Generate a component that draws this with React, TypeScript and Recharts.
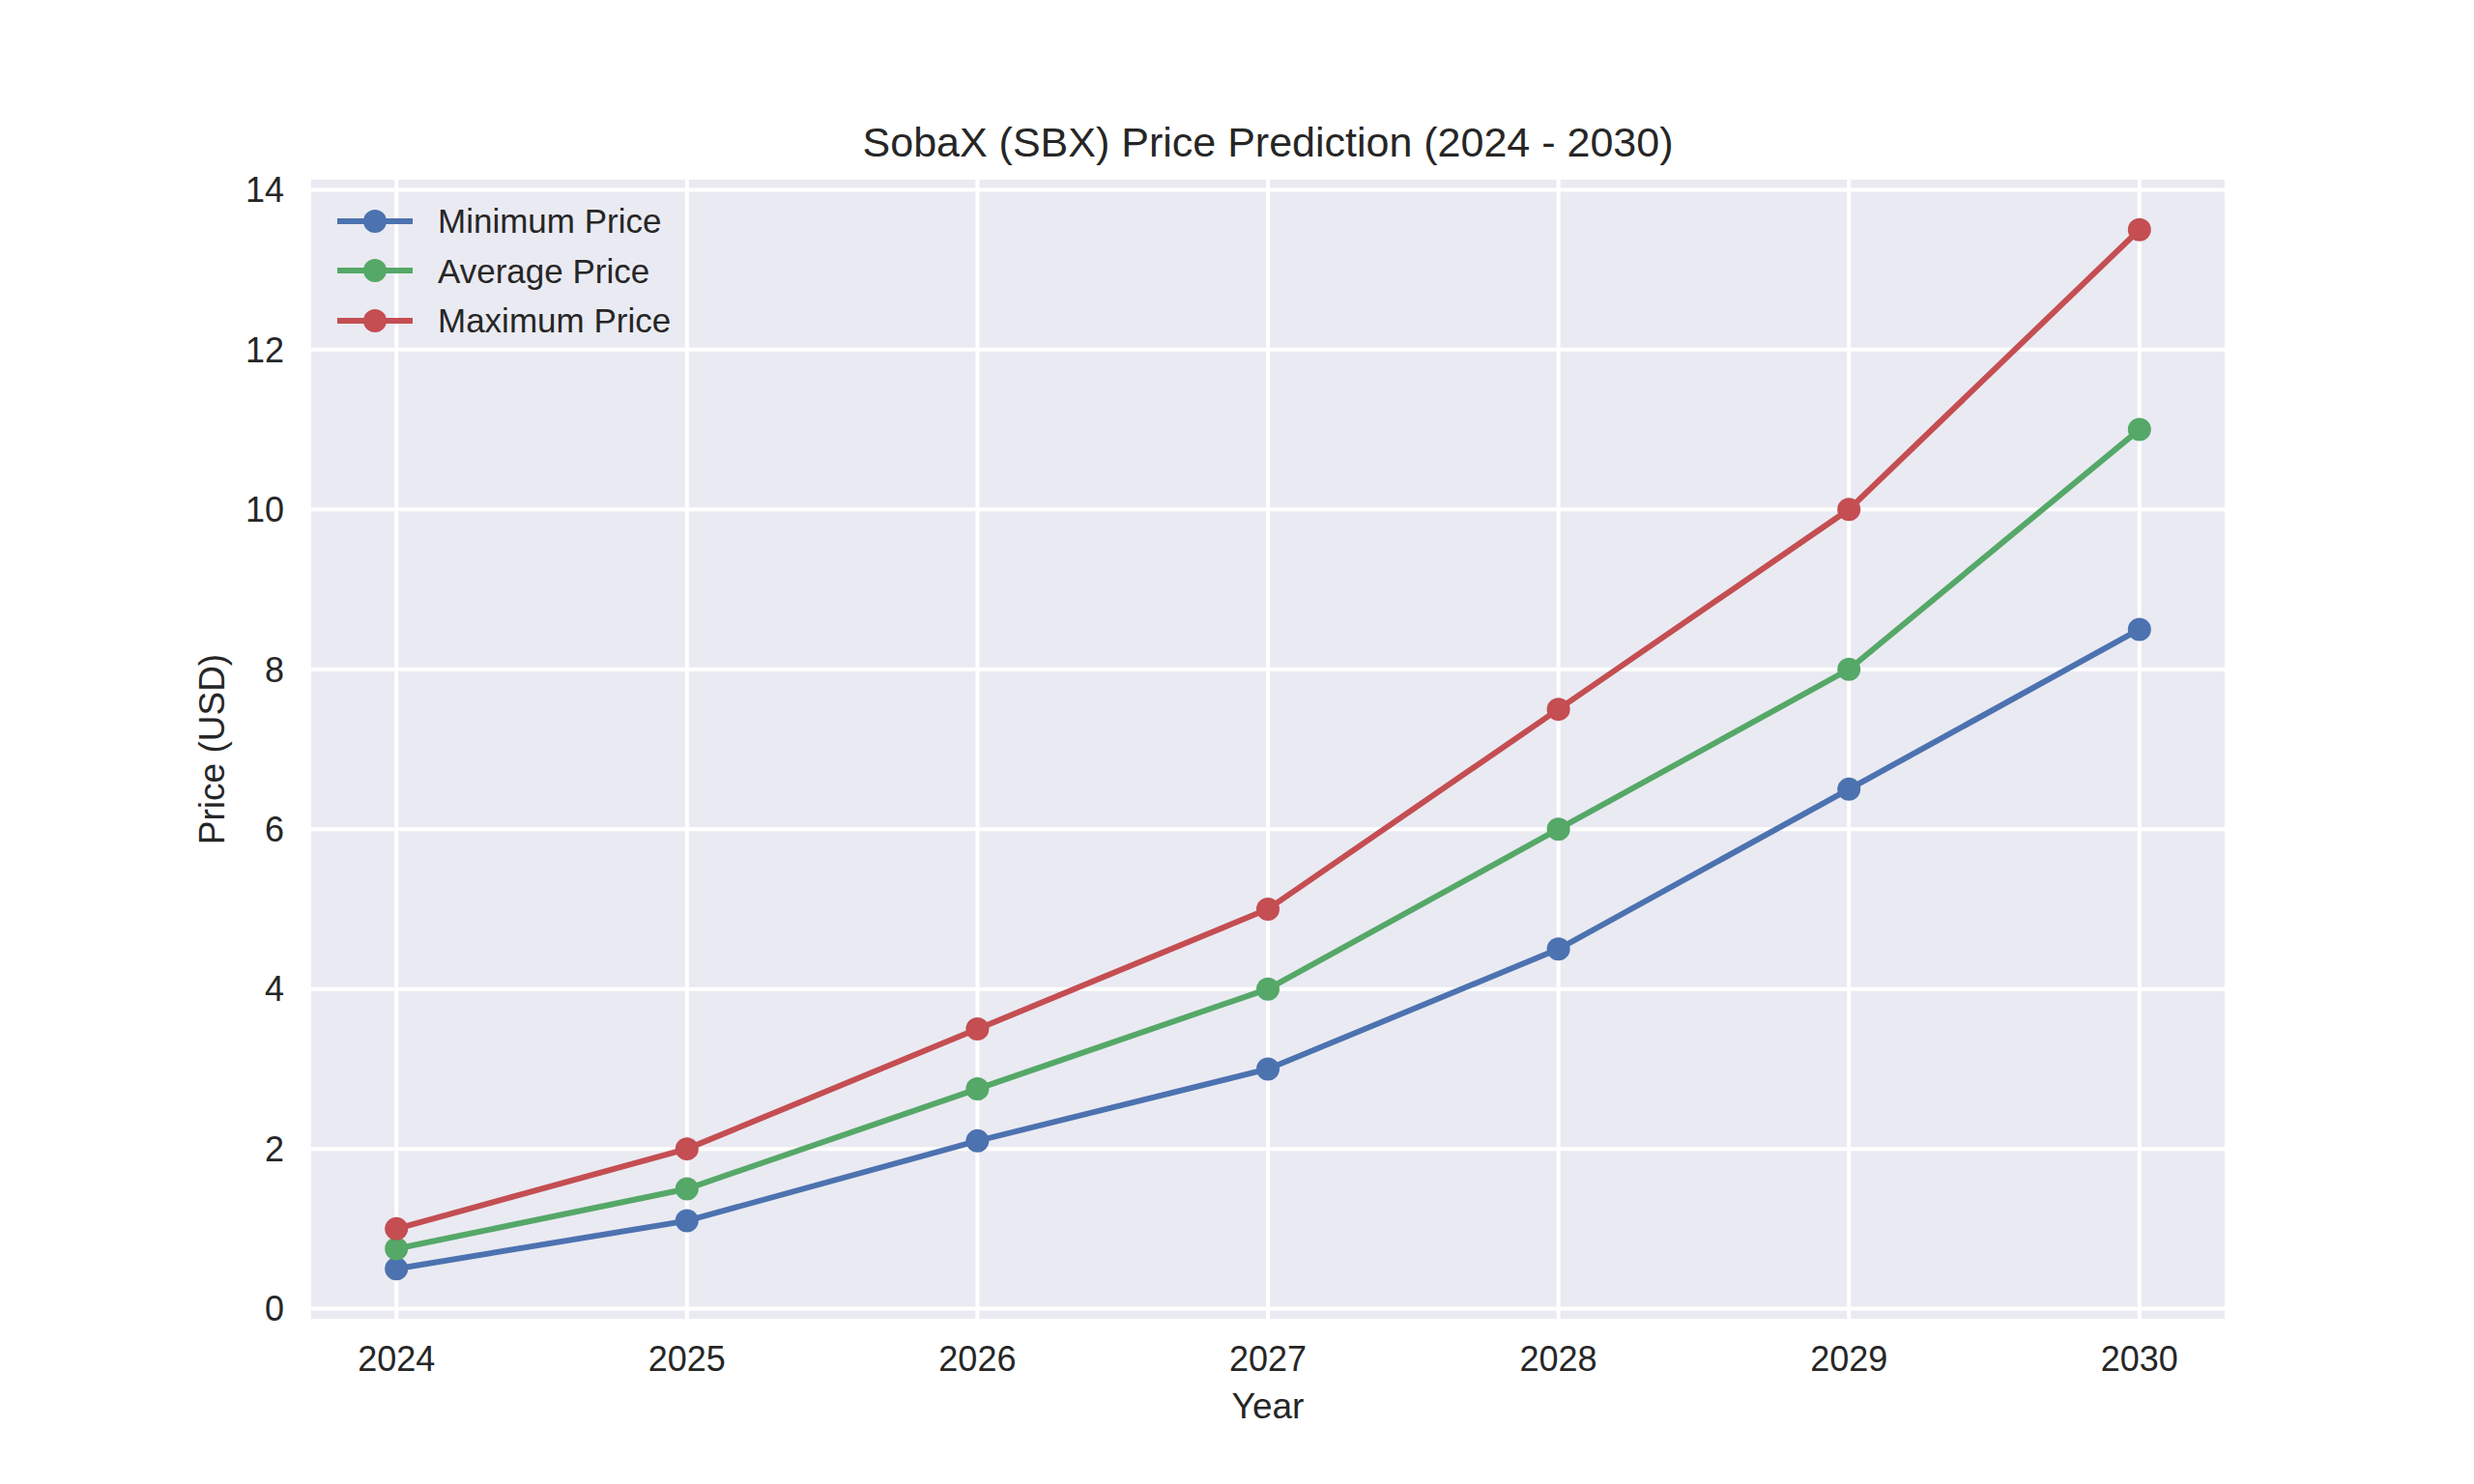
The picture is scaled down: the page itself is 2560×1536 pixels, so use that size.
import { CartesianGrid, Label, Legend, Line, LineChart, XAxis, YAxis } from "recharts";

const years = [2024, 2025, 2026, 2027, 2028, 2029, 2030];
const minimumPrice = [0.5, 1.1, 2.1, 3.0, 4.5, 6.5, 8.5];
const averagePrice = [0.75, 1.5, 2.75, 4.0, 6.0, 8.0, 11.0];
const maximumPrice = [1.0, 2.0, 3.5, 5.0, 7.5, 10.0, 13.5];
const yTicks = [0, 2, 4, 6, 8, 10, 12, 14];

const BLUE = "#4C72B0";
const GREEN = "#55A868";
const RED = "#C44E52";
const TEXT = "#262626";
const FONT = '"Liberation Sans", Arial, sans-serif';

const rows = years.map((year, i) => ({
  year,
  min: minimumPrice[i],
  avg: averagePrice[i],
  max: maximumPrice[i],
}));

const seriesList = [
  { key: "min", name: "Minimum Price", color: BLUE },
  { key: "avg", name: "Average Price", color: GREEN },
  { key: "max", name: "Maximum Price", color: RED },
];

function LegendBox() {
  return (
    <div style={{ fontFamily: FONT, fontSize: 35, color: TEXT }}>
      {seriesList.map((s) => (
        <div key={s.key} style={{ display: "flex", alignItems: "center", height: 51.5 }}>
          <svg width={78} height={30} style={{ display: "block" }}>
            <line x1={0} y1={15} x2={78} y2={15} stroke={s.color} strokeWidth={6} strokeLinecap="round" />
            <circle cx={39} cy={15} r={12} fill={s.color} />
          </svg>
          <span style={{ marginLeft: 26, lineHeight: 1, whiteSpace: "nowrap" }}>{s.name}</span>
        </div>
      ))}
    </div>
  );
}

export default function App() {
  return (
    <div
      style={{
        position: "absolute",
        left: 0,
        top: 0,
        width: 2560,
        height: 1536,
        background: "#FFFFFF",
        fontFamily: FONT,
      }}
    >
      <div
        style={{
          position: "absolute",
          left: 320,
          width: 1984,
          top: 126,
          textAlign: "center",
          fontSize: 43,
          lineHeight: 1,
          color: TEXT,
          whiteSpace: "nowrap",
        }}
      >
        SobaX (SBX) Price Prediction (2024 - 2030)
      </div>
      <LineChart
        width={2560}
        height={1536}
        data={rows}
        margin={{ top: 184, right: 256, left: 200, bottom: 69 }}
      >
        <CartesianGrid fill="#EAEAF2" stroke="#FFFFFF" strokeWidth={4} />
        <XAxis
          dataKey="year"
          type="number"
          domain={[2023.7, 2030.3]}
          ticks={years}
          height={100}
          axisLine={false}
          tickLine={false}
          tickSize={0}
          tickMargin={26}
          tick={{ fill: TEXT, fontSize: 36, fontFamily: FONT }}
        >
          <Label
            content={({ viewBox }: any) => (
              <text
                x={viewBox.x + viewBox.width / 2}
                y={viewBox.y + 101}
                textAnchor="middle"
                fill={TEXT}
                fontSize={37}
                fontFamily={FONT}
              >
                Year
              </text>
            )}
          />
        </XAxis>
        <YAxis
          type="number"
          domain={[-0.15, 14.15]}
          ticks={yTicks}
          width={120}
          axisLine={false}
          tickLine={false}
          tickSize={0}
          tickMargin={26}
          tick={{ fill: TEXT, fontSize: 36, fontFamily: FONT }}
        >
          <Label
            content={({ viewBox }: any) => {
              const x = viewBox.x + 32;
              const y = viewBox.y + viewBox.height / 2;
              return (
                <text
                  x={x}
                  y={y}
                  transform={`rotate(-90, ${x}, ${y})`}
                  textAnchor="middle"
                  fill={TEXT}
                  fontSize={37}
                  fontFamily={FONT}
                >
                  Price (USD)
                </text>
              );
            }}
          />
        </YAxis>
        <Legend
          layout="vertical"
          verticalAlign="middle"
          align="center"
          content={() => <LegendBox />}
          wrapperStyle={{ left: 349, top: 203, width: "auto" }}
        />
        {seriesList.map((s) => (
          <Line
            key={s.key}
            type="linear"
            dataKey={s.key}
            name={s.name}
            stroke={s.color}
            strokeWidth={6}
            dot={{ r: 12, fill: s.color, stroke: s.color, strokeWidth: 0 }}
            activeDot={false}
            isAnimationActive={false}
          />
        ))}
      </LineChart>
    </div>
  );
}
